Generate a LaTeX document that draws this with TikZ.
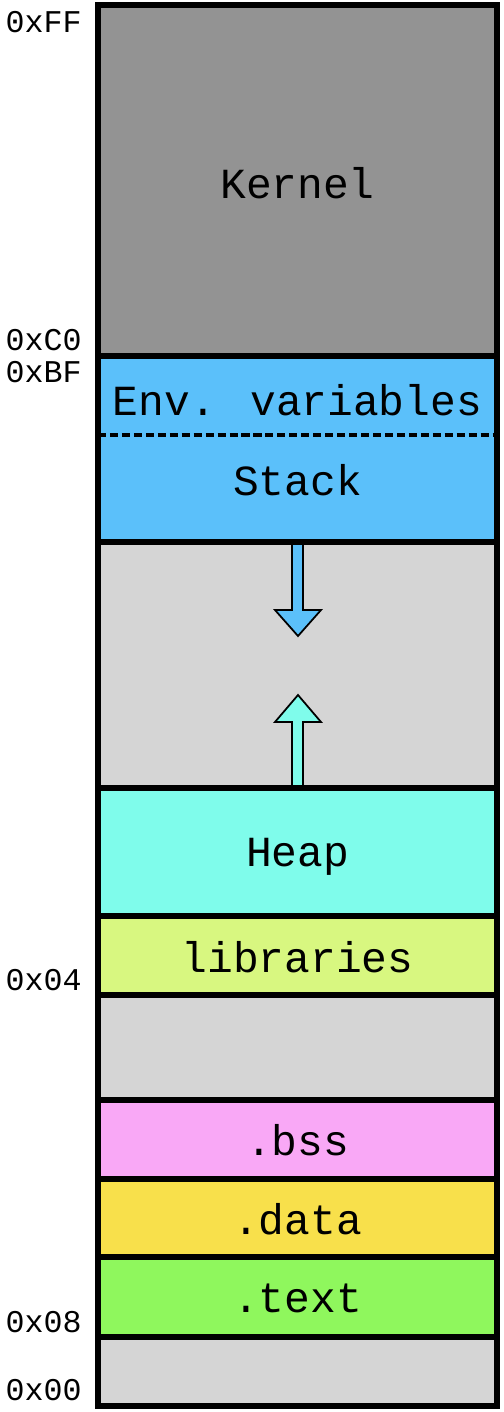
\documentclass[tikz,border=0pt]{standalone}
\usepackage{fontspec}
\setmainfont{Liberation Mono}
\definecolor{kernelgray}{HTML}{939393}
\definecolor{freegray}{HTML}{D5D5D5}
\definecolor{stackblue}{HTML}{5BC0FA}
\definecolor{heapcyan}{HTML}{7FFCEB}
\definecolor{libgreen}{HTML}{D8F780}
\definecolor{bsspink}{HTML}{F9A8F6}
\definecolor{datayellow}{HTML}{F8E04B}
\definecolor{textgreen}{HTML}{8FF75D}
\tikzset{
	seg/.style={draw=black,line width=1.5pt},
	seglabel/.style={font=\fontsize{12.2}{14}\selectfont,inner sep=0pt},
	addr/.style={font=\fontsize{9}{10}\selectfont,anchor=west,inner sep=0pt},
	growarrow/.style={draw=black,line width=0.5pt,line join=miter}
}
\begin{document}
\begin{tikzpicture}[x=0.01cm,y=-0.01cm]
		\useasboundingbox (0,0) rectangle (504,1412);
		\pgfmathsetmacro{\L}{98}
		\pgfmathsetmacro{\Rr}{497}
		\pgfmathsetmacro{\xm}{(\L+\Rr)/2}
		% memory segments
		\foreach \top/\bot/\col in {5/356/kernelgray,356/542/stackblue,542/788/freegray,
			788/916/heapcyan,916/995/libgreen,995/1100/freegray,1100/1179/bsspink,
			1179/1257/datayellow,1257/1337/textgreen,1337/1406/freegray}
			\fill[\col] (\L,\top) rectangle (\Rr,\bot);
		% stack and heap growth
		\draw[growarrow,fill=stackblue] (292,542)--(292,610)--(275,610)--(298,636)--(321,610)--(303,610)--(303,542);
		\draw[growarrow,fill=heapcyan] (292,788)--(292,722)--(275,722)--(298,695)--(321,722)--(303,722)--(303,788);
		\foreach \top/\bot in {5/356,356/542,542/788,788/916,916/995,995/1100,1100/1179,
			1179/1257,1257/1337,1337/1406}
			\draw[seg] (\L,\top) rectangle (\Rr,\bot);
		\draw[line width=0.9pt,dash pattern=on 2.3pt off 1.1pt] (\L,435)--(\Rr,435);
		\node[seglabel] (kernel) at (\xm,183) {Kernel};
		\node[seglabel] (env) at (\xm,400) {Env. variables};
		\node[seglabel] (stack) at (\xm,480) {Stack};
		\node[seglabel] (heap) at (\xm,857) {Heap};
		\node[seglabel] (libs) at (\xm,957) {libraries};
		\node[seglabel] (bss) at (\xm,1140) {.bss};
		\node[seglabel] (data) at (\xm,1219) {.data};
		\node[seglabel] (text) at (\xm,1298) {.text};
		% addresses
		\node[addr] (aFF) at (5,22) {0xFF};
		\node[addr] (aC0) at (5,340) {0xC0};
		\node[addr] (aBF) at (5,372) {0xBF};
		\node[addr] (a04) at (5,980) {0x04};
		\node[addr] (a08) at (5,1322) {0x08};
		\node[addr] (a00) at (5,1390) {0x00};
	\end{tikzpicture}
\end{document}
